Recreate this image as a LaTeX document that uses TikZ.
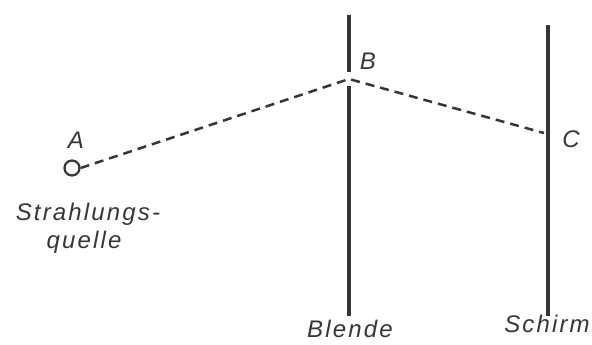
\documentclass[tikz,border=0pt]{standalone}
\usepackage{fontspec}
\setmainfont{Liberation Sans}
\newfontfamily\lettering[LetterSpace=9]{Liberation Sans}
\usepackage{tikz}

\definecolor{ink}{HTML}{363636}
\tikzset{
  wall/.style={ink, line width=3.1pt},
  ray/.style={ink, line width=2.5pt, dash pattern=on 9pt off 6pt},
  lbl/.style={ink, font=\lettering\fontsize{24}{28}\selectfont\itshape},
}

\begin{document}
\begin{tikzpicture}[x=1pt, y=-1pt]
        \useasboundingbox[fill=white] (0,0) rectangle (592,345);
        % Blende and Schirm
        \coordinate (Btop) at (349,15);
        \coordinate (Bgap1) at (349,72);
        \coordinate (Bgap2) at (349,86);
        \coordinate (Bbot) at (349,316);
        \coordinate (Stop) at (548,25);
        \coordinate (Sbot) at (548,316);
        \draw[wall] (Btop) -- (Bgap1);
        \draw[wall] (Bgap2) -- (Bbot);
        \draw[wall] (Stop) -- (Sbot);
        % Source and ray
        \node[circle, draw=ink, line width=2.2pt, minimum size=15pt, inner sep=0pt] (A) at (72,168) {};
        \coordinate (B) at (349,79);
        \coordinate (C) at (544,133);
        \draw[ray] (A.east) -- (B) -- (C);
        % Labels
        \node[lbl] (Alab) at (76,140) {A};
        \node[lbl] (Blab) at (368,61) {B};
        \node[lbl] (Clab) at (571,139) {C};
        \node[lbl, anchor=base] (src1) at (88,220) {Strahlungs-};
        \node[lbl, anchor=base] (src2) at (84,248) {quelle};
        \node[lbl, anchor=base] (blende) at (350,337) {Blende};
        \node[lbl, anchor=base] (schirm) at (547,332) {Schirm};
      \end{tikzpicture}
\end{document}
